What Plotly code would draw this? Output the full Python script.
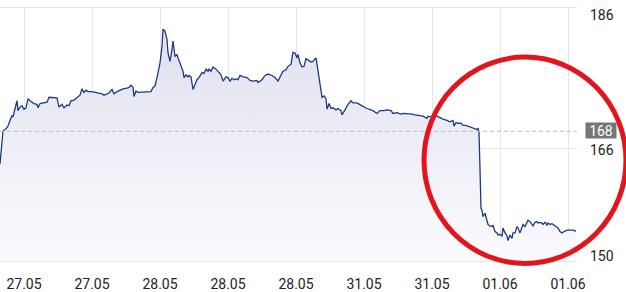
import plotly.graph_objects as go

# ---- data (bar index along the intraday time axis, price) ----
bar_index = [
    0, 2, 3, 6, 8, 10, 12, 13, 15, 17, 18, 20, 22, 24, 26, 28, 30, 32, 34, 37,
    38, 40, 43, 47, 49, 53, 57, 59, 62, 64, 67, 69, 71, 74, 77, 80, 82, 84, 86, 88,
    92, 95, 98, 102, 104, 107, 109, 112, 114, 117, 120, 123, 127, 129, 131, 133, 134, 136, 138, 142,
    145, 148, 151, 153, 155, 157, 160, 162, 163, 165, 167, 168, 170, 172, 173, 175, 177, 178, 181, 183,
    184, 186, 188, 189, 191, 193, 195, 197, 199, 202, 204, 206, 208, 209, 211, 213, 216, 218, 221, 223,
    226, 228, 230, 232, 234, 236, 238, 240, 243, 247, 250, 253, 257, 258, 262, 265, 268, 272, 275, 278,
    280, 283, 286, 288, 291, 293, 295, 297, 298, 300, 302, 304, 306, 308, 311, 313, 316, 317, 320, 322,
    324, 326, 327, 329, 331, 333, 336, 338, 341, 342, 345, 347, 348, 351, 353, 357, 360, 363, 367, 370,
    373, 377, 380, 384, 387, 391, 393, 397, 401, 404, 407, 412, 415, 419, 423, 427, 428, 431, 434, 437,
    441, 443, 447, 450, 453, 454, 456, 458, 461, 463, 466, 468, 472, 474, 477, 478, 479, 480, 481, 482,
    483, 485, 487, 488, 490, 492, 493, 495, 497, 498, 500, 502, 503, 505, 507, 508, 510, 512, 513, 515,
    517, 518, 520, 522, 523, 525, 527, 528, 530, 532, 533, 535, 537, 538, 540, 542, 543, 545, 547, 548,
    550, 552, 553, 555, 557, 558, 560, 562, 563, 565, 567, 568, 570, 572, 573, 575, 576,
]
price = [
    163.8, 167.8, 168.5, 168.8, 169.2, 170.0, 170.7, 170.5, 171.6, 172.8, 171.4, 171.9, 172.1, 171.6, 171.8, 173.1, 172.8, 172.6, 172.4, 172.3,
    171.8, 172.4, 172.5, 172.6, 173.3, 173.3, 173.2, 171.9, 172.3, 171.8, 172.2, 172.1, 172.8, 172.9, 173.3, 173.6, 174.5, 174.0, 174.3, 174.1,
    174.1, 174.0, 174.0, 173.8, 173.6, 173.8, 173.9, 174.4, 173.8, 174.1, 174.3, 174.5, 174.6, 174.7, 175.0, 174.7, 173.4, 174.2, 174.0, 174.0,
    174.1, 174.0, 174.1, 174.7, 174.9, 176.1, 178.2, 180.5, 183.0, 182.7, 181.5, 179.6, 178.4, 180.1, 181.3, 179.1, 179.4, 178.9, 177.7, 177.0,
    176.1, 176.5, 176.2, 176.4, 176.2, 174.4, 175.1, 175.8, 176.1, 176.8, 176.7, 177.3, 177.0, 177.3, 177.0, 177.6, 177.3, 177.0, 176.5, 175.6,
    176.2, 176.1, 175.6, 176.0, 175.8, 175.9, 175.8, 176.4, 176.2, 176.1, 175.7, 175.6, 175.7, 175.4, 175.8, 176.4, 176.6, 176.4, 176.1, 175.6,
    176.1, 177.0, 177.2, 177.7, 178.0, 179.7, 179.6, 178.9, 179.4, 178.2, 177.6, 177.7, 178.8, 178.6, 178.3, 178.4, 178.9, 178.0, 175.4, 173.3,
    173.5, 173.1, 171.6, 172.4, 171.7, 171.8, 171.5, 171.7, 171.4, 170.8, 171.5, 172.1, 172.3, 172.8, 172.5, 172.5, 172.2, 172.0, 171.7, 171.5,
    171.4, 171.0, 171.4, 171.4, 171.5, 171.4, 171.0, 171.1, 170.9, 171.0, 171.0, 170.9, 170.8, 170.7, 170.6, 170.3, 170.6, 170.5, 170.7, 170.6,
    170.3, 170.2, 170.0, 169.8, 170.0, 169.2, 169.7, 169.6, 169.6, 169.3, 169.3, 169.2, 169.0, 168.9, 168.7, 168.9, 168.3, 163.1, 157.5, 157.2,
    156.3, 156.8, 155.6, 155.2, 155.0, 154.9, 155.1, 154.2, 154.0, 153.7, 153.8, 153.5, 154.7, 154.0, 153.6, 152.9, 153.7, 153.2, 154.0, 154.0,
    154.9, 154.7, 154.0, 154.9, 155.2, 154.9, 155.5, 155.8, 155.6, 155.2, 155.0, 155.5, 155.6, 155.4, 155.5, 155.4, 155.2, 155.5, 155.1, 155.4,
    155.2, 155.3, 155.2, 155.0, 154.9, 154.7, 154.2, 154.0, 154.1, 154.3, 154.4, 154.4, 154.4, 154.5, 154.4, 154.3, 154.2,
]
prev_close = 168.45
x_tick_pos = [24, 92, 160, 228, 296, 364, 432, 500, 568]
x_tick_labels = ["27.05", "27.05", "28.05", "28.05", "28.05", "31.05", "31.05", "01.06", "01.06"]
y_ticks = [150, 166, 186]

FONT = "Roboto, 'DejaVu Sans', sans-serif"
TXT = "#222222"
GRID = "#e6e6ec"

fig = go.Figure()
fig.add_trace(go.Scatter(
    x=bar_index, y=price, mode="lines",
    line=dict(color="#1d3a80", width=1.3),
    fill="tozeroy",
    fillgradient=dict(type="vertical", start=150, stop=184,
                      colorscale=[[0, "rgb(251,251,254)"], [1, "rgb(224,224,239)"]]),
    hoverinfo="skip", showlegend=False,
))

fig.update_layout(
    width=626, height=292,
    margin=dict(l=0, r=49, t=8, b=29, pad=0),
    paper_bgcolor="white", plot_bgcolor="white",
    font=dict(family=FONT, size=14, color=TXT),
    showlegend=False,
    xaxis=dict(
        range=[0, 577], tickmode="array", tickvals=x_tick_pos, ticktext=x_tick_labels,
        showgrid=True, gridcolor=GRID, gridwidth=1, zeroline=False,
        showline=True, mirror=True, linecolor=GRID, linewidth=1,
        ticks="", ticklabelstandoff=10,
        tickfont=dict(family=FONT, size=14, color=TXT),
        fixedrange=True,
    ),
    yaxis=dict(
        range=[150, 186], side="right", tickmode="array", tickvals=y_ticks,
        showgrid=True, gridcolor=GRID, gridwidth=1, zeroline=False,
        showline=False, showticklabels=False, ticks="", fixedrange=True,
    ),
)

# previous-close dashed reference line
fig.add_shape(type="line", xref="paper", yref="y", x0=0, x1=1, y0=prev_close, y1=prev_close,
              line=dict(color="#bdbdbd", width=1, dash="4px,3px"), layer="above")

# right-side y labels (edge labels sit inside the range)
shifts = {186: -7, 166: -1, 150: 5}
for v in y_ticks:
    fig.add_annotation(x=1, xref="paper", y=v, yref="y", xanchor="left", yanchor="middle",
                       xshift=12, yshift=shifts[v], text=str(v), showarrow=False,
                       font=dict(family=FONT, size=14, color=TXT), borderpad=0)

# previous-close label box
fig.add_annotation(x=1, xref="paper", y=prev_close, yref="y", xanchor="left", yanchor="middle",
                   xshift=8, yshift=1, text=f"{prev_close:.0f}", showarrow=False,
                   width=30, height=15, bgcolor="#767676", borderpad=0,
                   font=dict(family=FONT, size=14, color="white"))

# red highlight circle
fig.add_shape(type="circle", xref="paper", yref="paper",
              x0=424 / 577, x1=626 / 577, y0=(263 - 265.5) / 255, y1=(263 - 57.5) / 255,
              line=dict(color="#e3151c", width=5), layer="above")

fig.write_html("out.html")
